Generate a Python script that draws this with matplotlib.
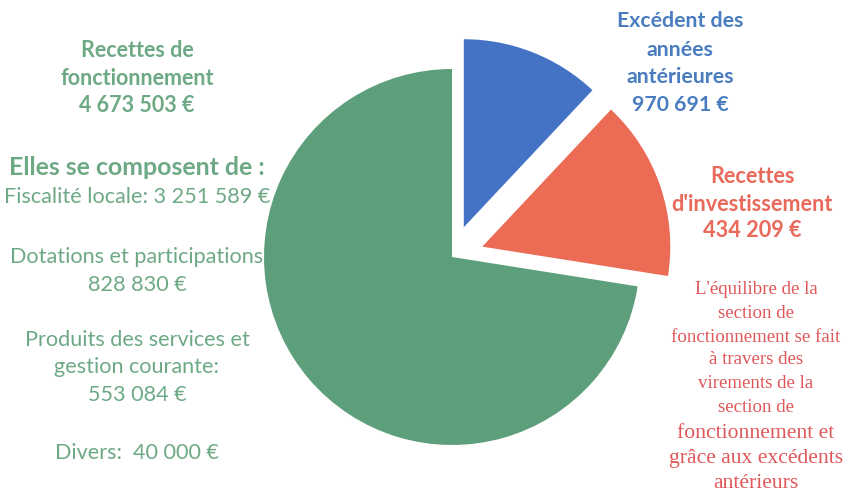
import matplotlib.pyplot as plt

# pie shares as drawn in the picture (percent of the circle)
slices = ["Recettes de fonctionnement", "Recettes d'investissement", "Excédent des années antérieures"]
shares = [72.5, 15.5, 12.0]
colors = ["#5e9f7b", "#ec6b55", "#4472c4"]
explode = [0, 32, 32]  # matplotlib offsets in data units

left_lines = [
    ("Recettes de", 50, "bold", 15.5),
    ("fonctionnement", 78, "bold", 15.5),
    ("4 673 503 €", 105, "bold", 15.5),
    ("Elles se composent de :", 167, "bold", 17.9),
    ("Fiscalité locale: 3 251 589 €", 197, "normal", 15.6),
    ("Dotations et participations", 257, "normal", 15.6),
    ("828 830 €", 285, "normal", 15.6),
    ("Produits des services et", 340, "normal", 15.6),
    ("gestion courante:", 367, "normal", 15.6),
    ("553 084 €", 395, "normal", 15.6),
    ("Divers:  40 000 €", 453, "normal", 15.6),
]
blue_lines = [("Excédent des", 21), ("années", 50), ("antérieures", 77), ("970 691 €", 105)]
red_lines = [("Recettes", 176), ("d'investissement", 204), ("434 209 €", 230)]
note_lines = [
    ("L'équilibre de la", 290, 13.6), ("section de", 313, 13.6),
    ("fonctionnement se fait", 337, 13.6), ("à travers des", 360, 13.6),
    ("virements de la", 383, 13.6), ("section de", 407, 13.6),
    ("fonctionnement et", 433, 15.6), ("grâce aux excédents", 458, 15.6),
    ("antérieurs", 483, 15.6),
]

W, H = 848, 501
fig = plt.figure(figsize=(W / 100, H / 100), dpi=100)
ax = fig.add_axes([0, 0, 1, 1])

ax.pie(shares, colors=colors, explode=explode, startangle=90, counterclock=True,
       center=(452, H - 257), radius=188, wedgeprops=dict(linewidth=0))
ax.set_xlim(0, W)
ax.set_ylim(0, H)
ax.set_aspect("equal")
ax.axis("off")

sans = ["Lato", "DejaVu Sans"]
for txt, y, w, s in left_lines:
    ax.text(137, H - y, txt, ha="center", va="center", fontsize=s, fontweight=w,
            color="#6ea985", family=sans)
for txt, y in blue_lines:
    ax.text(680, H - y, txt, ha="center", va="center", fontsize=15.3, fontweight="bold",
            color="#4a7cc0", family=sans)
for txt, y in red_lines:
    ax.text(752, H - y, txt, ha="center", va="center", fontsize=15.6, fontweight="bold",
            color="#e9695a", family=sans)
for txt, y, s in note_lines:
    ax.text(756, H - y, txt, ha="center", va="center", fontsize=s,
            color="#e0585a", family=["Liberation Serif", "DejaVu Serif"])

fig.savefig("out.png", dpi=100)
